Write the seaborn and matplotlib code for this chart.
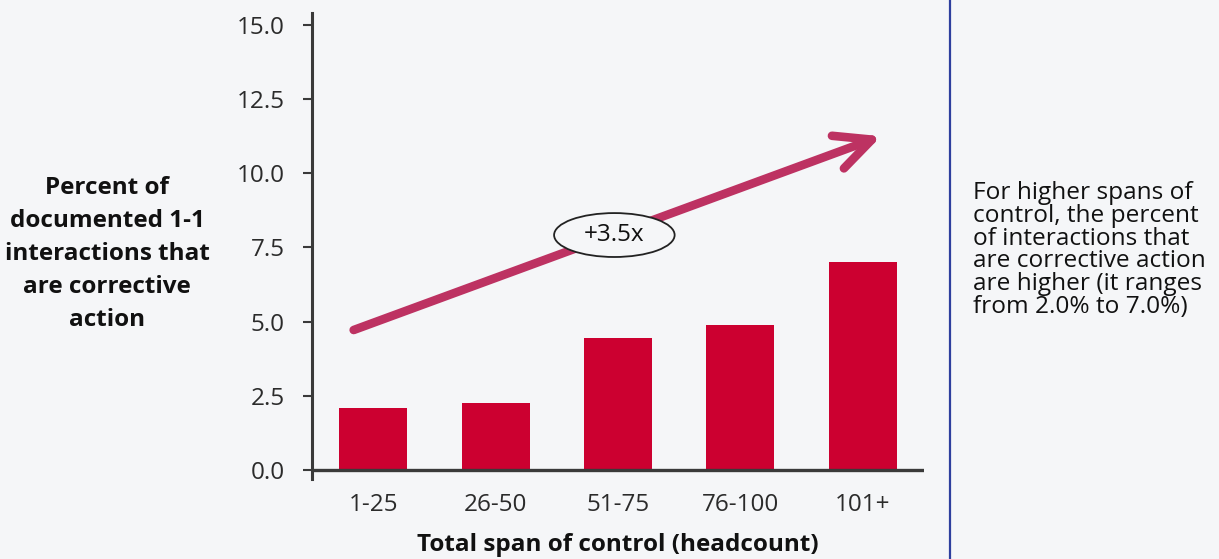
import matplotlib
matplotlib.use("Agg")
import matplotlib.pyplot as plt
from matplotlib.patches import Ellipse, FancyArrowPatch
from matplotlib.lines import Line2D
import seaborn as sns
import pandas as pd

# Span-of-control buckets and the share of 1-1 interactions that are corrective action (%)
span_buckets = ["1-25", "26-50", "51-75", "76-100", "101+"]
corrective_pct = [2.1, 2.25, 4.45, 4.9, 7.0]
y_ticks = [0.0, 2.5, 5.0, 7.5, 10.0, 12.5, 15.0]
growth_label = "+3.5x"

BG = "#F5F6F8"
BAR = "#CC0030"
ARROW = "#BD3262"
INK = "#2B2B2B"

sns.set_theme(style="white")
plt.rcParams["font.family"] = ["Open Sans", "DejaVu Sans"]

df = pd.DataFrame({"span": span_buckets, "pct": corrective_pct})

fig = plt.figure(figsize=(12.19, 5.59), dpi=100, facecolor=BG)
ax = fig.add_axes([0.256, 0.1431, 0.502, 0.8336])
ax.set_facecolor(BG)

sns.barplot(data=df, x="span", y="pct", color=BAR, saturation=1, width=0.555,
            edgecolor="none", ax=ax)

ax.set_xlim(-0.5, 4.5)
ax.set_ylim(-0.3, 15.4)
ax.set_yticks(y_ticks)
ax.set_yticklabels([f"{t:.1f}" for t in y_ticks])

for s in ["top", "right", "bottom"]:
    ax.spines[s].set_visible(False)
ax.spines["left"].set_color("#3A3A3A")
ax.spines["left"].set_linewidth(2.2)
ax.axhline(0, color="#3A3A3A", lw=2.4, zorder=5)

ax.tick_params(axis="y", length=6.5, width=1.5, color="#3A3A3A", pad=13,
               labelsize=17.5, labelcolor=INK, left=True)
ax.tick_params(axis="x", length=0, pad=10, labelsize=17.5, labelcolor=INK)
ax.set_xlabel("")
ax.set_ylabel("")

# Growth arrow across the bars
arrow = FancyArrowPatch((-0.16, 4.72), (4.15, 11.25),
                        arrowstyle="->,head_length=26,head_width=12.5",
                        mutation_scale=1, color=ARROW, lw=6.2,
                        capstyle="round", joinstyle="round",
                        shrinkA=0, shrinkB=0, zorder=6)
ax.add_patch(arrow)

# Oval badge with the growth multiple
ax.add_patch(Ellipse((1.97, 7.92), 0.985, 1.48, facecolor=BG,
                     edgecolor="#222222", lw=1.3, zorder=7))
ax.text(1.97, 7.92, growth_label, ha="center", va="center", fontsize=17.5,
        color="#111111", zorder=8)

# Axis titles
fig.text(0.0878, 0.5456, "Percent of\ndocumented 1-1\ninteractions that\nare corrective\naction",
         ha="center", va="center", fontsize=17.5, fontweight="bold",
         color="#111111", linespacing=1.5)
fig.text(0.507, 0.025, "Total span of control (headcount)", ha="center",
         va="center", fontsize=17.5, fontweight="bold", color="#111111")

# Divider and commentary panel
fig.add_artist(Line2D([0.779, 0.779], [0, 1], transform=fig.transFigure,
                      color="#2E3F9E", lw=1.6))
fig.text(0.798, 0.553,
         "For higher spans of\ncontrol, the percent\nof interactions that\n"
         "are corrective action\nare higher (it ranges\nfrom 2.0% to 7.0%)",
         ha="left", va="center", fontsize=17.6, color="#111111", linespacing=0.93)

fig.savefig("out.png", dpi=100, facecolor=BG)
